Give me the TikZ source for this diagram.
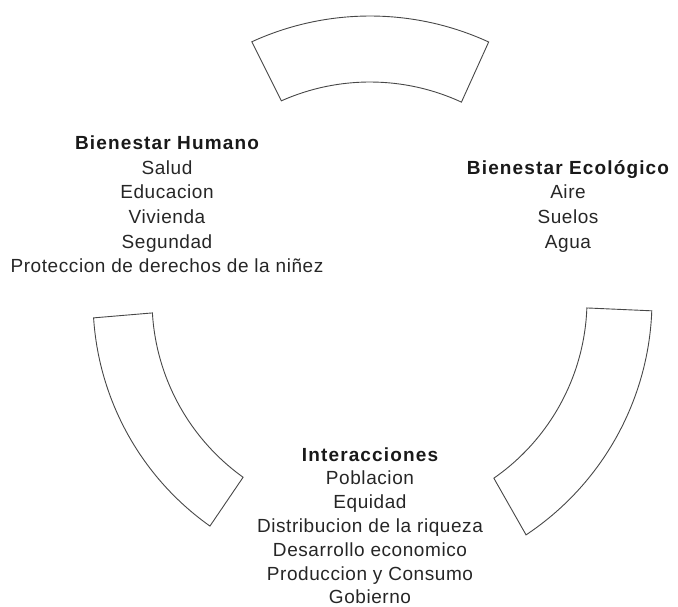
\documentclass[tikz,border=0pt]{standalone}
\usepackage{fontspec}
\setmainfont{Liberation Sans}
\newfontfamily\regf[LetterSpace=3]{Liberation Sans}
\newfontfamily\boldf[LetterSpace=6]{Liberation Sans}
\usetikzlibrary{calc}
\begin{document}
\begin{tikzpicture}[x=1pt,y=-1pt,
  sec/.style={draw=black!72,line width=0.9pt,line join=miter},
  hd/.style={anchor=base,inner sep=0pt,font=\fontsize{19}{24}\boldf\bfseries,text=black!90},
  it/.style={anchor=base,inner sep=0pt,font=\fontsize{19}{24}\regf,text=black!85}]
\useasboundingbox (0,0) rectangle (678,607);
\coordinate (C) at (370,300);
% top sector
\draw[sec] ($(C)+(-114.6:284)$) arc[start angle=-114.6,end angle=-65.3,radius=284]
  -- ($(C)+(-65.2:218)$) arc[start angle=-65.2,end angle=-114.0,radius=218] -- cycle;
% left sector
\draw[sec] ($(C)+(176.3:277)$) arc[start angle=176.3,end angle=125.3,radius=277]
  -- ($(C)+(125.6:218)$) arc[start angle=125.6,end angle=176.6,radius=218] -- cycle;
% right sector
\draw[sec] ($(C)+(2.2:282)$) arc[start angle=2.2,end angle=56.4,radius=282]
  -- ($(C)+(55.2:217)$) arc[start angle=55.2,end angle=2.1,radius=217] -- cycle;
% left block
\node[hd] (h0) at (167,150) {Bienestar Humano};
\node[it] (h1) at (167,174.5) {Salud};
\node[it] (h2) at (167,199) {Educacion};
\node[it] (h3) at (167,223.5) {Vivienda};
\node[it] (h4) at (167,248) {Segundad};
\node[it] (h5) at (167,272.5) {Proteccion de derechos de la niñez};
% right block
\node[hd] (e0) at (568,174.5) {Bienestar Ecológico};
\node[it] (e1) at (568,199) {Aire};
\node[it] (e2) at (568,223.5) {Suelos};
\node[it] (e3) at (568,248) {Agua};
% bottom block
\node[hd] (i0) at (370,461) {Interacciones};
\node[it] (i1) at (370,484.8) {Poblacion};
\node[it] (i2) at (370,508.6) {Equidad};
\node[it] (i3) at (370,532.4) {Distribucion de la riqueza};
\node[it] (i4) at (370,556.2) {Desarrollo economico};
\node[it] (i5) at (370,580) {Produccion y Consumo};
\node[it] (i6) at (370,603.6) {Gobierno};
\end{tikzpicture}
\end{document}
